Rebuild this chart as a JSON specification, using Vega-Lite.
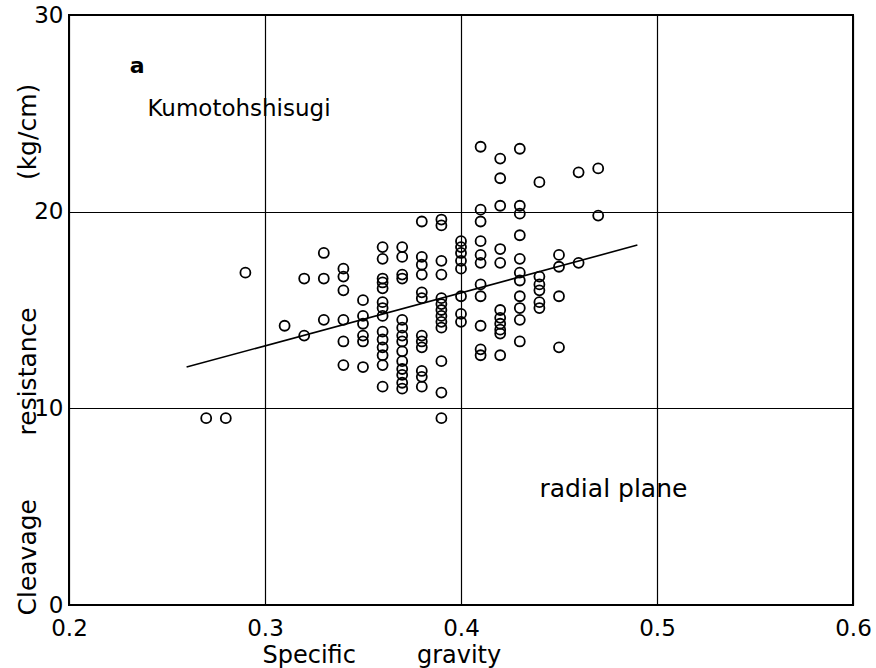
{
  "$schema": "https://vega.github.io/schema/vega-lite/v6.json",
  "width": 784,
  "height": 590,
  "autosize": "none",
  "padding": {"left": 69, "top": 15, "right": 23, "bottom": 63},
  "background": "white",
  "config": {
    "view": {"stroke": "black", "strokeWidth": 2},
    "font": "DejaVu Sans"
  },
  "datasets": {
    "pts": [
      {"sg": 0.27, "cr": 9.5}, {"sg": 0.28, "cr": 9.5}, {"sg": 0.29, "cr": 16.9}, {"sg": 0.31, "cr": 14.2},
      {"sg": 0.32, "cr": 16.6}, {"sg": 0.32, "cr": 13.7},
      {"sg": 0.33, "cr": 17.9}, {"sg": 0.33, "cr": 16.6}, {"sg": 0.33, "cr": 14.5},
      {"sg": 0.34, "cr": 17.1}, {"sg": 0.34, "cr": 16.7}, {"sg": 0.34, "cr": 16.0}, {"sg": 0.34, "cr": 14.5}, {"sg": 0.34, "cr": 13.4}, {"sg": 0.34, "cr": 12.2},
      {"sg": 0.35, "cr": 15.5}, {"sg": 0.35, "cr": 14.7}, {"sg": 0.35, "cr": 14.3}, {"sg": 0.35, "cr": 13.7}, {"sg": 0.35, "cr": 13.4}, {"sg": 0.35, "cr": 12.1},
      {"sg": 0.36, "cr": 18.2}, {"sg": 0.36, "cr": 17.6}, {"sg": 0.36, "cr": 16.6}, {"sg": 0.36, "cr": 16.4}, {"sg": 0.36, "cr": 16.1}, {"sg": 0.36, "cr": 15.4}, {"sg": 0.36, "cr": 15.1}, {"sg": 0.36, "cr": 14.7}, {"sg": 0.36, "cr": 13.9}, {"sg": 0.36, "cr": 13.5}, {"sg": 0.36, "cr": 13.1}, {"sg": 0.36, "cr": 12.7}, {"sg": 0.36, "cr": 12.2}, {"sg": 0.36, "cr": 11.1},
      {"sg": 0.37, "cr": 18.2}, {"sg": 0.37, "cr": 17.7}, {"sg": 0.37, "cr": 16.8}, {"sg": 0.37, "cr": 16.6}, {"sg": 0.37, "cr": 14.5}, {"sg": 0.37, "cr": 14.1}, {"sg": 0.37, "cr": 13.7}, {"sg": 0.37, "cr": 13.4}, {"sg": 0.37, "cr": 12.9}, {"sg": 0.37, "cr": 12.4}, {"sg": 0.37, "cr": 12.0}, {"sg": 0.37, "cr": 11.7}, {"sg": 0.37, "cr": 11.3}, {"sg": 0.37, "cr": 11.0},
      {"sg": 0.38, "cr": 19.5}, {"sg": 0.38, "cr": 17.7}, {"sg": 0.38, "cr": 17.3}, {"sg": 0.38, "cr": 16.8}, {"sg": 0.38, "cr": 15.9}, {"sg": 0.38, "cr": 15.6}, {"sg": 0.38, "cr": 13.7}, {"sg": 0.38, "cr": 13.4}, {"sg": 0.38, "cr": 13.1}, {"sg": 0.38, "cr": 11.9}, {"sg": 0.38, "cr": 11.6}, {"sg": 0.38, "cr": 11.1},
      {"sg": 0.39, "cr": 19.6}, {"sg": 0.39, "cr": 19.3}, {"sg": 0.39, "cr": 17.5}, {"sg": 0.39, "cr": 16.8}, {"sg": 0.39, "cr": 15.6}, {"sg": 0.39, "cr": 15.3}, {"sg": 0.39, "cr": 15.0}, {"sg": 0.39, "cr": 14.7}, {"sg": 0.39, "cr": 14.4}, {"sg": 0.39, "cr": 14.1}, {"sg": 0.39, "cr": 12.4}, {"sg": 0.39, "cr": 10.8}, {"sg": 0.39, "cr": 9.5},
      {"sg": 0.40, "cr": 18.5}, {"sg": 0.40, "cr": 18.2}, {"sg": 0.40, "cr": 17.9}, {"sg": 0.40, "cr": 17.5}, {"sg": 0.40, "cr": 17.1}, {"sg": 0.40, "cr": 15.7}, {"sg": 0.40, "cr": 14.8}, {"sg": 0.40, "cr": 14.4},
      {"sg": 0.41, "cr": 23.3}, {"sg": 0.41, "cr": 20.1}, {"sg": 0.41, "cr": 19.5}, {"sg": 0.41, "cr": 18.5}, {"sg": 0.41, "cr": 17.8}, {"sg": 0.41, "cr": 17.4}, {"sg": 0.41, "cr": 16.3}, {"sg": 0.41, "cr": 15.7}, {"sg": 0.41, "cr": 14.2}, {"sg": 0.41, "cr": 13.0}, {"sg": 0.41, "cr": 12.7},
      {"sg": 0.42, "cr": 22.7}, {"sg": 0.42, "cr": 21.7}, {"sg": 0.42, "cr": 20.3}, {"sg": 0.42, "cr": 18.1}, {"sg": 0.42, "cr": 17.4}, {"sg": 0.42, "cr": 15.0}, {"sg": 0.42, "cr": 14.6}, {"sg": 0.42, "cr": 14.3}, {"sg": 0.42, "cr": 14.0}, {"sg": 0.42, "cr": 13.8}, {"sg": 0.42, "cr": 12.7},
      {"sg": 0.43, "cr": 23.2}, {"sg": 0.43, "cr": 20.3}, {"sg": 0.43, "cr": 19.9}, {"sg": 0.43, "cr": 18.8}, {"sg": 0.43, "cr": 17.6}, {"sg": 0.43, "cr": 16.9}, {"sg": 0.43, "cr": 16.5}, {"sg": 0.43, "cr": 15.7}, {"sg": 0.43, "cr": 15.1}, {"sg": 0.43, "cr": 14.5}, {"sg": 0.43, "cr": 13.4},
      {"sg": 0.44, "cr": 21.5}, {"sg": 0.44, "cr": 16.7}, {"sg": 0.44, "cr": 16.3}, {"sg": 0.44, "cr": 16.0}, {"sg": 0.44, "cr": 15.4}, {"sg": 0.44, "cr": 15.1},
      {"sg": 0.45, "cr": 17.8}, {"sg": 0.45, "cr": 17.2}, {"sg": 0.45, "cr": 15.7}, {"sg": 0.45, "cr": 13.1},
      {"sg": 0.46, "cr": 22.0}, {"sg": 0.46, "cr": 17.4},
      {"sg": 0.47, "cr": 22.2}, {"sg": 0.47, "cr": 19.8}
    ],
    "fit": [{"sg": 0.26, "cr": 12.1}, {"sg": 0.49, "cr": 18.3}],
    "notes": [
      {"sg": 0.231, "cr": 27.4, "label": "a", "kind": "a"},
      {"sg": 0.240, "cr": 25.2, "label": "Kumotohshisugi", "kind": "k"},
      {"sg": 0.440, "cr": 5.9, "label": "radial plane", "kind": "r"}
    ]
  },
  "encoding": {},
  "layer": [
    {
      "data": {"name": "pts"},
      "mark": {"type": "point", "shape": "circle", "filled": false, "stroke": "black", "strokeWidth": 1.8, "size": 100, "opacity": 1},
      "encoding": {
        "x": {
          "field": "sg", "type": "quantitative",
          "scale": {"domain": [0.2, 0.6], "nice": false, "zero": false},
          "axis": {
            "values": [0.2, 0.3, 0.4, 0.5, 0.6], "format": ".1f",
            "grid": true, "gridColor": "black", "gridWidth": 1.2, "gridOpacity": 1,
            "domain": false, "ticks": false,
            "labelFontSize": 23, "labelColor": "black", "labelPadding": 12,
            "labelFlush": false,
            "title": "Specific\u00a0\u00a0\u00a0\u00a0\u00a0\u00a0\u00a0\u00a0gravity", "titleFontSize": 24, "titleFontWeight": "normal", "titleColor": "black",
            "titleAnchor": "start", "titleAlign": "left", "titleX": 193, "titleY": 38, "titleBaseline": "top"
          }
        },
        "y": {
          "field": "cr", "type": "quantitative",
          "scale": {"domain": [0, 30], "nice": false},
          "axis": {
            "values": [0, 10, 20, 30],
            "grid": true, "gridColor": "black", "gridWidth": 1.2, "gridOpacity": 1,
            "domain": false, "ticks": false,
            "labelFontSize": 23, "labelColor": "black", "labelPadding": 6,
            "labelFlush": false,
            "title": "Cleavage\u00a0\u00a0\u00a0\u00a0\u00a0\u00a0\u00a0\u00a0resistance\u00a0\u00a0\u00a0\u00a0\u00a0\u00a0\u00a0\u00a0\u00a0\u00a0\u00a0\u00a0\u00a0\u00a0\u00a0\u00a0(kg/cm)", "titleFontSize": 25, "titleFontWeight": "normal", "titleColor": "black",
            "titleAnchor": "start", "titleAlign": "left", "titleX": -34, "titleY": 600, "titleAngle": 270, "titleBaseline": "alphabetic"
          }
        }
      }
    },
    {
      "data": {"name": "fit"},
      "mark": {"type": "line", "color": "black", "strokeWidth": 1.6},
      "encoding": {
        "x": {"field": "sg", "type": "quantitative"},
        "y": {"field": "cr", "type": "quantitative"}
      }
    },
    {
      "data": {"name": "notes"},
      "transform": [{"filter": "datum.kind == 'a'"}],
      "mark": {"type": "text", "align": "left", "baseline": "middle", "color": "black", "fontSize": 22, "fontWeight": "bold"},
      "encoding": {
        "x": {"field": "sg", "type": "quantitative"},
        "y": {"field": "cr", "type": "quantitative"},
        "text": {"field": "label"}
      }
    },
    {
      "data": {"name": "notes"},
      "transform": [{"filter": "datum.kind == 'k'"}],
      "mark": {"type": "text", "align": "left", "baseline": "middle", "color": "black", "fontSize": 23},
      "encoding": {
        "x": {"field": "sg", "type": "quantitative"},
        "y": {"field": "cr", "type": "quantitative"},
        "text": {"field": "label"}
      }
    },
    {
      "data": {"name": "notes"},
      "transform": [{"filter": "datum.kind == 'r'"}],
      "mark": {"type": "text", "align": "left", "baseline": "middle", "color": "black", "fontSize": 25},
      "encoding": {
        "x": {"field": "sg", "type": "quantitative"},
        "y": {"field": "cr", "type": "quantitative"},
        "text": {"field": "label"}
      }
    }
  ]
}
